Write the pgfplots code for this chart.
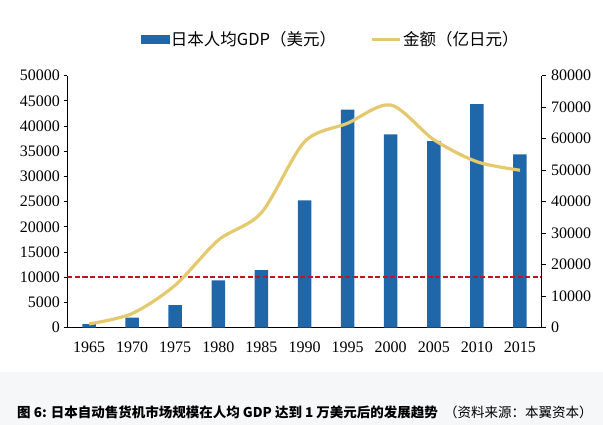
\documentclass[border=0pt]{standalone}
\usepackage{pgfplots}
\pgfplotsset{compat=1.18}
\usepackage{fontspec}
\setmainfont{Liberation Serif}
\newfontfamily\cjk{Noto Sans CJK SC}
\definecolor{barblue}{HTML}{1F67A8}
\definecolor{lineyel}{HTML}{E5C96E}
\definecolor{dashred}{HTML}{C8101E}
\definecolor{capbg}{HTML}{F6F7F9}
\begin{document}
\begin{tikzpicture}[x=1pt,y=1pt]
\path[use as bounding box] (0,0) rectangle (603,425);
\fill[capbg] (0,0) rectangle (603,53);
\node[anchor=west, inner sep=0pt, font=\cjk\fontsize{13.5}{13.5}\selectfont] at (17,13) {\textbf{图 6: 日本自动售货机市场规模在人均 GDP 达到 1 万美元后的发展趋势}\ \ （资料来源：本翼资本）};
\begin{axis}[
  at={(67.5pt,97.3pt)}, anchor=south west, scale only axis,
  width=474pt, height=252pt,
  xmin=-0.5, xmax=10.5, ymin=0, ymax=50000,
  axis x line*=bottom, axis y line*=left,
  axis line style={black, line width=1pt},
  xtick={0,...,10},
  xticklabels={1965,1970,1975,1980,1985,1990,1995,2000,2005,2010,2015},
  x tick style={draw=none},
  ytick={0,5000,...,50000},
  yticklabels={0,5000,10000,15000,20000,25000,30000,35000,40000,45000,50000},
  y tick style={black, line width=1pt},
  tick align=outside, major tick length=4pt,
  scaled y ticks=false,
  tick label style={font=\rmfamily\fontsize{16}{16}\selectfont},
  xticklabel style={yshift=-7pt},
]
\addplot[ybar, bar width=13.5pt, fill=barblue, draw=none] coordinates {
(0,730) (1,1980) (2,4500) (3,9390) (4,11430) (5,25240) (6,43260) (7,38370) (8,37040) (9,44370) (10,34410)};
\addplot[dashred, line width=1.8pt, dash pattern=on 5pt off 2.5pt] coordinates {(-0.5,10000) (10.5,10000)};
\end{axis}
\begin{axis}[
  at={(67.5pt,97.3pt)}, anchor=south west, scale only axis,
  width=474pt, height=252pt,
  xmin=-0.5, xmax=10.5, ymin=0, ymax=80000,
  axis x line=none, axis y line*=right,
  axis line style={black, line width=1pt},
  ytick={0,10000,...,80000},
  yticklabels={0,10000,20000,30000,40000,50000,60000,70000,80000},
  y tick style={black, line width=1pt},
  tick align=outside, major tick length=4pt,
  scaled y ticks=false,
  tick label style={font=\rmfamily\fontsize{16}{16}\selectfont},
  yticklabel style={xshift=2pt},
  legend columns=2,
  legend style={at={(0.555,1.143)}, anchor=center, draw=none, fill=none,
    font=\cjk\fontsize{16.5}{16.5}\selectfont,
    /tikz/every even column/.append style={column sep=32pt},
    inner sep=0pt},
]
\addlegendimage{legend image code/.code={\fill[barblue] (0pt,-4pt) rectangle (28pt,4pt);}}
\addlegendentry{日本人均GDP（美元）}
\addplot[lineyel, line width=3.2pt, smooth,
  legend image code/.code={\draw[lineyel, line width=3pt] (0pt,0pt) -- (28pt,0pt);}] coordinates {
(0,1200) (1,4500) (2,13500) (3,27800) (4,36500) (5,59000) (6,64900) (7,70700) (8,59700) (9,52700) (10,50000)};
\addlegendentry{金额（亿日元）}
\end{axis}
\end{tikzpicture}
\end{document}
